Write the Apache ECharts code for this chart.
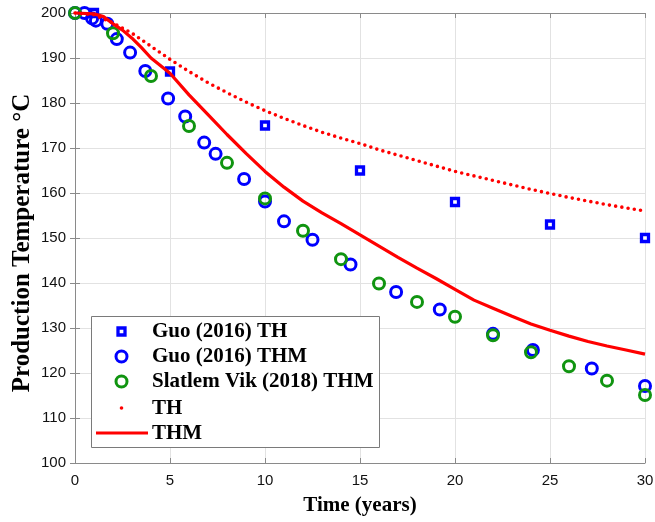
<!DOCTYPE html>
<html>
<head>
<meta charset="utf-8">
<script src="https://cdn.jsdelivr.net/npm/echarts@6/dist/echarts.min.js"></script>
<style>
  html, body { margin: 0; padding: 0; background: #fff; }
  #chart { width: 655px; height: 522px; }
</style>
</head>
<body>
<div id="chart"></div>
<script>
// Guo (2016) thermo-hydraulic reference points
const guoThYears = [1, 5, 10, 15, 20, 25, 30];
const guoThTemp  = [200, 187, 175, 165, 158, 153, 150];

// Guo (2016) thermo-hydro-mechanical reference points
const guoThmYears = [0, 0.5, 0.9, 1.1, 1.7, 2.2, 2.9, 3.7, 4.9, 5.8, 6.8, 7.4, 8.9, 10, 11, 12.5, 14.5, 16.9, 19.2, 22, 24.1, 27.2, 30];
const guoThmTemp  = [200, 200, 198.8, 198.3, 197.6, 194.2, 191.2, 187.1, 181, 177, 171.2, 168.7, 163.1, 158.1, 153.7, 149.6, 144.1, 138, 134.1, 128.7, 125.1, 121, 117.1];

// Slatlem Vik (2018) thermo-hydro-mechanical points
const slatYears = [0, 2, 4, 6, 8, 10, 12, 14, 16, 18, 20, 22, 24, 26, 28, 30];
const slatTemp  = [200, 195.5, 186, 174.9, 166.7, 158.8, 151.6, 145.3, 139.9, 135.8, 132.5, 128.4, 124.6, 121.5, 118.3, 115.1];

// Simulated TH curve (yearly)
const thYears = [0, 1, 2, 3, 4, 5, 6, 7, 8, 9, 10, 11, 12, 13, 14, 15, 16, 17, 18, 19, 20, 21, 22, 23, 24, 25, 26, 27, 28, 29, 30];
const thTemp  = [200, 199.6, 197.8, 195.5, 192.6, 189.7, 187, 184.5, 182.3, 180.2, 178.3, 176.6, 175, 173.5, 172.2, 171, 169.6, 168.4, 167.2, 166, 164.8, 163.8, 162.8, 161.8, 160.8, 159.9, 159, 158.2, 157.4, 156.7, 156];

// Simulated THM curve
const thmYears = [0, 1, 1.5, 2, 2.5, 3, 3.5, 4, 5, 6, 7, 8, 9, 10, 11, 12, 13, 14, 15, 16, 17, 18, 19, 20, 21, 22, 23, 24, 25, 26, 27, 28, 29, 30];
const thmTemp  = [200, 199.8, 199.2, 197.6, 196.2, 194.4, 192.3, 190, 186.6, 181.8, 177.4, 173, 168.8, 164.8, 161.3, 158.2, 155.6, 153.2, 150.7, 148.2, 145.7, 143.3, 141, 138.6, 136.2, 134.4, 132.6, 130.9, 129.5, 128.2, 127, 126, 125.1, 124.2];

const xTicks = { min: 0, max: 30, interval: 5 };
const yTicks = { min: 100, max: 200, interval: 10 };

const seriesNames = ['Guo (2016) TH', 'Guo (2016) THM', 'Slatlem Vik (2018) THM', 'TH', 'THM'];

const pairs = (xs, ys) => xs.map((x, i) => [x, ys[i]]);

const BLUE = '#0000ff', GREEN = '#109410', RED = '#ff0000';
const AXIS = '#8a8a8a', GRID = '#e2e2e2';
const serif = '"Liberation Serif", "Times New Roman", serif';
const sans = '"Liberation Sans", Arial, sans-serif';

// Legend panel: framed box with one key per series
const legendRows = [331.5, 356.5, 381.5, 408, 433];
const keyX = 121.5, textX = 152;
const LZ = 100;

function legendKey(i, cy) {
  switch (i) {
    case 0: return { type: 'rect', shape: { x: keyX - 3.5, y: cy - 3.5, width: 7, height: 7 },
                     style: { fill: '#fff', stroke: BLUE, lineWidth: 3.3 } };
    case 1: return { type: 'circle', shape: { cx: keyX, cy, r: 5.5 },
                     style: { fill: 'none', stroke: BLUE, lineWidth: 3 } };
    case 2: return { type: 'circle', shape: { cx: keyX, cy, r: 5.5 },
                     style: { fill: 'none', stroke: GREEN, lineWidth: 3 } };
    case 3: return { type: 'circle', shape: { cx: keyX, cy, r: 1.8 },
                     style: { fill: RED } };
    default: return { type: 'line', shape: { x1: 96, y1: cy, x2: 148, y2: cy },
                      style: { stroke: RED, lineWidth: 3.2 } };
  }
}

const legendElements = [{
  type: 'rect', z: LZ,
  shape: { x: 91.5, y: 316.5, width: 288, height: 131 },
  style: { fill: '#fff', stroke: '#7a7a7a', lineWidth: 1 }
}];
seriesNames.forEach((name, i) => {
  const cy = legendRows[i];
  legendElements.push(Object.assign({ z: LZ + 1 }, legendKey(i, cy)));
  legendElements.push({
    type: 'text', z: LZ + 1, x: textX, y: cy + 0.5,
    style: {
      text: name, fontFamily: serif, fontWeight: 'bold', fontSize: 21,
      fill: '#000', verticalAlign: 'middle', align: 'left'
    }
  });
});

const chart = echarts.init(document.getElementById('chart'), null, { renderer: 'canvas' });

chart.setOption({
  animation: false,
  backgroundColor: '#fff',
  grid: { left: 75, right: 10, top: 13, bottom: 59, containLabel: false, outerBoundsMode: 'none' },
  xAxis: [{
    type: 'value', ...xTicks, position: 'bottom',
    name: 'Time (years)', nameLocation: 'middle', nameGap: 32, nameMoveOverlap: false,
    nameTextStyle: { fontFamily: serif, fontWeight: 'bold', fontSize: 21, color: '#000' },
    axisLine: { lineStyle: { color: AXIS, width: 1 } },
    axisTick: { inside: true, length: 5, lineStyle: { color: AXIS } },
    axisLabel: { fontFamily: sans, fontSize: 15, color: '#111', margin: 10 },
    splitLine: { show: true, lineStyle: { color: GRID, width: 1 } }
  }, {
    type: 'value', ...xTicks, position: 'top',
    axisLine: { lineStyle: { color: AXIS, width: 1 } },
    axisTick: { inside: true, length: 5, lineStyle: { color: AXIS } },
    axisLabel: { show: false }, splitLine: { show: false }
  }],
  yAxis: [{
    type: 'value', ...yTicks, position: 'left',
    name: 'Production Temperature °C', nameLocation: 'middle', nameGap: 40, nameRotate: 90,
    nameMoveOverlap: false,
    nameTextStyle: { fontFamily: serif, fontWeight: 'bold', fontSize: 25, color: '#000', padding: [0, 10, 0, 0] },
    axisLine: { show: true, lineStyle: { color: AXIS, width: 1 } },
    axisTick: { show: true, inside: true, length: 5, lineStyle: { color: AXIS } },
    axisLabel: { fontFamily: sans, fontSize: 15, color: '#111', margin: 9 },
    splitLine: { show: true, lineStyle: { color: GRID, width: 1 } }
  }, {
    type: 'value', ...yTicks, position: 'right',
    axisLine: { show: true, lineStyle: { color: AXIS, width: 1 } },
    axisTick: { show: true, inside: true, length: 5, lineStyle: { color: AXIS } },
    axisLabel: { show: false }, splitLine: { show: false }
  }],
  graphic: legendElements,
  series: [{
    name: seriesNames[0], type: 'scatter', data: pairs(guoThYears, guoThTemp),
    symbol: 'rect', symbolSize: 7, clip: false,
    itemStyle: { color: '#fff', borderColor: BLUE, borderWidth: 3.3, opacity: 1 }
  }, {
    name: seriesNames[1], type: 'scatter', data: pairs(guoThmYears, guoThmTemp),
    symbol: 'circle', symbolSize: 11, clip: false,
    itemStyle: { color: 'rgba(0,0,0,0)', borderColor: BLUE, borderWidth: 3, opacity: 1 }
  }, {
    name: seriesNames[2], type: 'scatter', data: pairs(slatYears, slatTemp),
    symbol: 'circle', symbolSize: 11, clip: false,
    itemStyle: { color: 'rgba(0,0,0,0)', borderColor: GREEN, borderWidth: 3, opacity: 1 }
  }, {
    name: seriesNames[3], type: 'line', data: pairs(thYears, thTemp),
    showSymbol: false, smooth: false, clip: false,
    itemStyle: { color: RED },
    lineStyle: { color: RED, width: 3.6, type: [0, 6.3], cap: 'round' }
  }, {
    name: seriesNames[4], type: 'line', data: pairs(thmYears, thmTemp),
    showSymbol: false, smooth: false, clip: false,
    itemStyle: { color: RED },
    lineStyle: { color: RED, width: 3.2 }
  }]
});
</script>
</body>
</html>
